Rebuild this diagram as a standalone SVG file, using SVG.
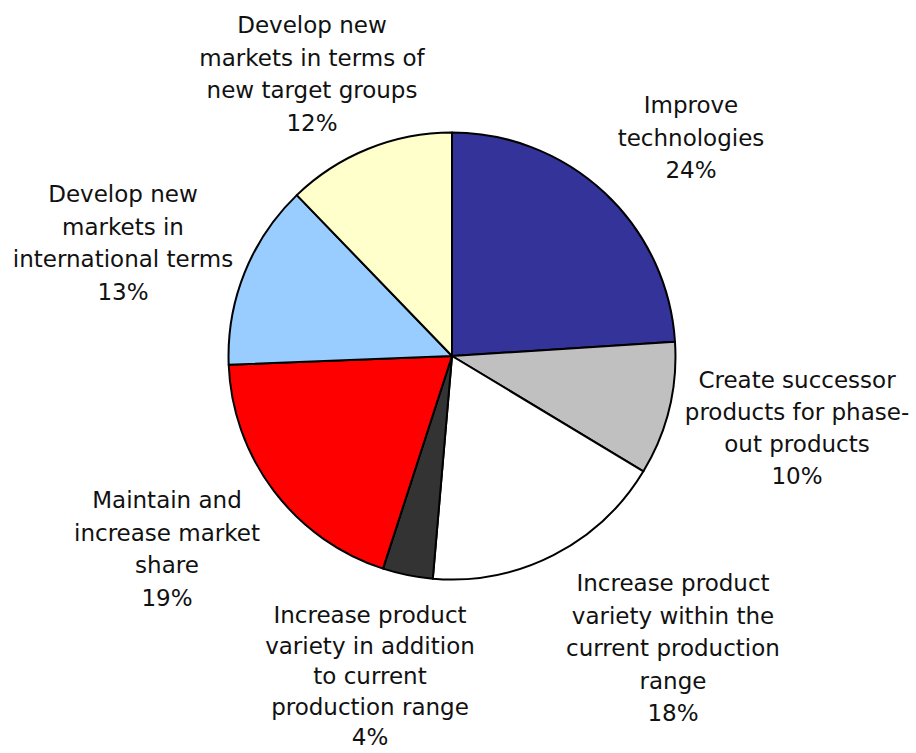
<svg xmlns="http://www.w3.org/2000/svg" width="916" height="753" viewBox="0 0 916 753">
<style>
.s{stroke:#000;stroke-width:2;stroke-linejoin:round}
.t{font-family:"DejaVu Sans","Liberation Sans",sans-serif;font-size:23px;fill:#111;text-anchor:middle}
</style>
<rect width="916" height="753" fill="#fff"/>
<g id="pie">
<g id="improve"><path class="s" fill="#333399" d="M452,356 L452,132.5 A223.5,223.5 0 0 1 675,341.7 Z"/></g>
<g id="successor"><path class="s" fill="#C0C0C0" d="M452,356 L675,341.7 A223.5,223.5 0 0 1 643.4,471.3 Z"/></g>
<g id="within"><path class="s" fill="#FFFFFF" d="M452,356 L643.4,471.3 A223.5,223.5 0 0 1 432.8,578.7 Z"/></g>
<g id="addition"><path class="s" fill="#333333" d="M452,356 L432.8,578.7 A223.5,223.5 0 0 1 383,568.6 Z"/></g>
<g id="maintain"><path class="s" fill="#FF0000" d="M452,356 L383,568.6 A223.5,223.5 0 0 1 228.7,364.7 Z"/></g>
<g id="international"><path class="s" fill="#99CCFF" d="M452,356 L228.7,364.7 A223.5,223.5 0 0 1 296.8,195.1 Z"/></g>
<g id="targetgroups"><path class="s" fill="#FFFFCC" d="M452,356 L296.8,195.1 A223.5,223.5 0 0 1 452,132.5 Z"/></g>
</g>
<g id="labels">
<text class="t"><tspan x="312" y="33">Develop new</tspan><tspan x="312" y="65.5">markets in terms of</tspan><tspan x="312" y="98">new target groups</tspan><tspan x="312" y="130.5">12%</tspan></text>
<text class="t"><tspan x="691" y="113">Improve</tspan><tspan x="691" y="145.5">technologies</tspan><tspan x="691" y="178">24%</tspan></text>
<text class="t"><tspan x="123" y="202">Develop new</tspan><tspan x="123" y="234.5">markets in</tspan><tspan x="123" y="267">international terms</tspan><tspan x="123" y="299.5">13%</tspan></text>
<text class="t"><tspan x="797" y="388">Create successor</tspan><tspan x="797" y="420">products for phase-</tspan><tspan x="797" y="452">out products</tspan><tspan x="797" y="484">10%</tspan></text>
<text class="t"><tspan x="167" y="508">Maintain and</tspan><tspan x="167" y="540.5">increase market</tspan><tspan x="167" y="573">share</tspan><tspan x="167" y="605.5">19%</tspan></text>
<text class="t"><tspan x="370" y="623">Increase product</tspan><tspan x="370" y="653.5">variety in addition</tspan><tspan x="370" y="684">to current</tspan><tspan x="370" y="714.5">production range</tspan><tspan x="370" y="745">4%</tspan></text>
<text class="t"><tspan x="673" y="591">Increase product</tspan><tspan x="673" y="623.5">variety within the</tspan><tspan x="673" y="656">current production</tspan><tspan x="673" y="688.5">range</tspan><tspan x="673" y="721">18%</tspan></text>
</g>
</svg>
